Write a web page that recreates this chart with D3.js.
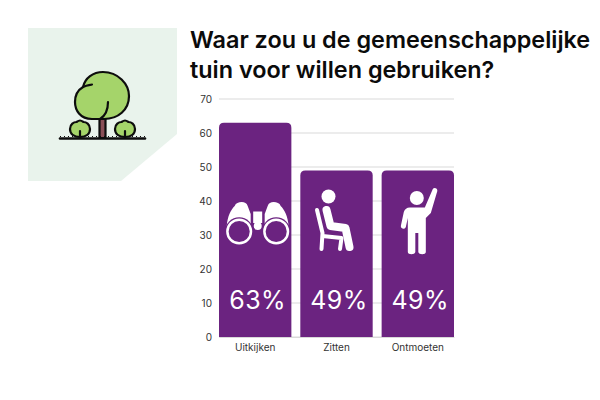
<!DOCTYPE html>
<html>
<head>
<meta charset="utf-8">
<script src="https://cdn.jsdelivr.net/npm/d3@7"></script>
<style>
  html, body { margin: 0; padding: 0; background: #fff; }
  svg { display: block; }
  text { font-family: Inter, sans-serif; }
</style>
</head>
<body>
<div id="plot"></div>
<script>
const categories = ["Uitkijken", "Zitten", "Ontmoeten"];
const values = [63, 49, 49];
const valueLabels = ["63%", "49%", "49%"];
const yTicks = [0, 10, 20, 30, 40, 50, 60, 70];
const titleLines = ["Waar zou u de gemeenschappelijke", "tuin voor willen gebruiken?"];

const purple = "#6b2380";

const svg = d3.select("#plot").append("svg")
  .attr("width", 600)
  .attr("height", 400);

// scales
const x = d3.scaleBand().domain(categories).range([219, 454]).paddingInner(0.11);
const y = d3.scaleLinear().domain([0, 70]).range([337, 99]);

// green panel with the cut corner
svg.append("path")
  .attr("d", "M28,28H177V134L121,181H28Z")
  .attr("fill", "#e9f3ec");

// tree
const tree = svg.append("g")
  .attr("stroke", "#0d0d0d")
  .attr("stroke-width", 2.2)
  .attr("stroke-linecap", "round")
  .attr("stroke-linejoin", "round");
tree.append("rect").attr("x", 99.5).attr("y", 116).attr("width", 6).attr("height", 22).attr("fill", "#8a4f57");
tree.append("path")
  .attr("d", "M92,119C80,119 75,110 75,102C75,95 78,90 83,87C85,78 93,72 103,72C118,72 129,84 129,96C129,110 118,119 104,119Z")
  .attr("fill", "#a5d46a");
tree.append("path").attr("d", "M83,87C87,85 90,85 92,84.500M108,102C108,110 105,116 100,119").attr("fill", "none");
[80, 125].forEach(cx => {
  tree.append("path")
    .attr("d", `M${cx},137C${cx - 6},137 ${cx - 10},134 ${cx - 10},129C${cx - 10},124 ${cx - 6},122 ${cx - 3.500},122C${cx - 2},121 ${cx - 1},120.500 ${cx},120.500C${cx + 1},120.500 ${cx + 2},121 ${cx + 3.500},122C${cx + 6},122 ${cx + 10},124 ${cx + 10},129C${cx + 10},134 ${cx + 6},137 ${cx},137Z`)
    .attr("fill", "#a5d46a");
  tree.append("path").attr("d", `M${cx},138V131`).attr("fill", "none");
});
tree.append("path").attr("d", "M60,138.500H145").attr("fill", "none").attr("stroke-width", 2.6);
tree.append("path").attr("d", "M60,136.500H145").attr("fill", "none")
  .attr("stroke-width", 1).attr("stroke-linecap", "butt").attr("stroke-dasharray", "1 3");

// title
svg.append("g").selectAll("text")
  .data(titleLines)
  .enter()
  .append("text")
  .attr("x", 190)
  .attr("y", (d, i) => 48 + i * 30)
  .attr("font-size", 23.4)
  .attr("font-weight", 600)
  .attr("fill", "#0b0b0b")
  .text(d => d);

// gridlines
svg.append("g").selectAll("line")
  .data(yTicks)
  .enter()
  .append("line")
  .attr("x1", 219)
  .attr("x2", 454)
  .attr("y1", d => y(d))
  .attr("y2", d => y(d))
  .attr("stroke", "#d9d9d9")
  .attr("stroke-width", 1.2);

// y axis labels
const yAxis = d3.axisLeft(y).tickValues(yTicks).tickSize(0).tickPadding(7);
const yG = svg.append("g").attr("transform", "translate(219,0)").call(yAxis);
yG.select(".domain").remove();
yG.selectAll("text").attr("font-size", 10).attr("fill", "#333").style("font-family", "Inter, sans-serif");

// bars, top corners rounded
const r = 5;
svg.append("g").selectAll("path")
  .data(values)
  .enter()
  .append("path")
  .attr("d", (d, i) => {
    const x0 = x(categories[i]), w = x.bandwidth(), top = y(d), bottom = y(0);
    return `M${x0},${bottom}V${top + r}Q${x0},${top} ${x0 + r},${top}H${x0 + w - r}Q${x0 + w},${top} ${x0 + w},${top + r}V${bottom}Z`;
  })
  .attr("fill", purple);

// x axis labels
const xAxis = d3.axisBottom(x).tickSize(0).tickPadding(7);
const xG = svg.append("g").attr("transform", "translate(0,337)").call(xAxis);
xG.select(".domain").attr("stroke", "#d9d9d9");
xG.selectAll("text").attr("font-size", 10).attr("fill", "#333").style("font-family", "Inter, sans-serif");

// value labels
svg.append("g").selectAll("text")
  .data(valueLabels)
  .enter()
  .append("text")
  .attr("x", (d, i) => x(categories[i]) + x.bandwidth() / 2 + 2.5)
  .attr("y", 309)
  .attr("text-anchor", "middle")
  .attr("font-size", 25)
  .attr("letter-spacing", 0.5)
  .attr("fill", "#fff")
  .text(d => d);

// icons, drawn around the middle of each bar
function iconGroup(i, dx) {
  return svg.append("g")
    .attr("transform", `translate(${x(categories[i]) + x.bandwidth() / 2 + dx},0)`);
}

// binoculars
const bino = iconGroup(0, 2.5);
[-1, 1].forEach(s => {
  const side = bino.append("g").attr("transform", `scale(${s},1)`);
  side.append("path")
    .attr("d", "M7,214L10,206C11,203 13,202 16,202C19,202 22,203 23,206C27,210 30,216 31,226L18,222L7,226Z")
    .attr("fill", "#fff");
  side.append("circle").attr("cx", 18.500).attr("cy", 231.500).attr("r", 14.200).attr("fill", purple);
  side.append("circle").attr("cx", 18.500).attr("cy", 231.500).attr("r", 11.800)
    .attr("fill", purple).attr("stroke", "#fff").attr("stroke-width", 2.500);
});
bino.append("path").attr("d", "M-4.500,211.500L4.500,211.500L4.500,223L-4.500,223Z").attr("fill", "#fff");
bino.append("circle").attr("cy", 226).attr("r", 4).attr("fill", "#fff");

// seated person
const sit = iconGroup(1, 0);
sit.append("circle").attr("cx", -8).attr("cy", 196.500).attr("r", 7).attr("fill", "#fff");
sit.append("path")
  .attr("d", "M-10,210L-6,226L9,228L13,247")
  .attr("fill", "none").attr("stroke", "#fff").attr("stroke-width", 8)
  .attr("stroke-linecap", "round").attr("stroke-linejoin", "round");
sit.append("path")
  .attr("d", "M-19.500,210L-14,233L-15,249M-14,236L5,238L3.500,249")
  .attr("fill", "none").attr("stroke", "#fff").attr("stroke-width", 4)
  .attr("stroke-linecap", "round").attr("stroke-linejoin", "round");

// person waving
const wave = iconGroup(2, 0);
wave.append("circle").attr("cx", -1).attr("cy", 198).attr("r", 7).attr("fill", "#fff");
wave.append("path")
  .attr("d", "M-8,207.500H7L15,189C16,187 20,188 19.500,191L13,213L8,218V252C8,255 1,255 0.500,252V233H-2.500V252C-3,255 -10,255 -10,252V218L-12,227C-13,230 -17,229 -17,226L-14,212C-13,209 -11,207.500 -8,207.500Z")
  .attr("fill", "#fff");
</script>
</body>
</html>
